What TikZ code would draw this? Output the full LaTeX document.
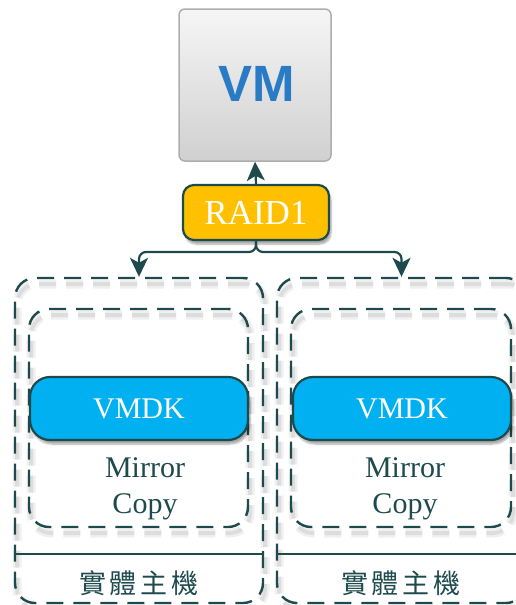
\documentclass[tikz,border=0pt]{standalone}
\usepackage{fontspec}
\setmainfont{Liberation Serif}
\newfontfamily\cjk{Noto Sans CJK TC}
\newfontfamily\vmfont{Liberation Sans}
\usetikzlibrary{arrows.meta,shadows.blur,calc}
\definecolor{dk}{HTML}{1E4A4D}
\definecolor{vmblue}{HTML}{2A7BC6}
\definecolor{raidor}{HTML}{FFC000}
\definecolor{vmdkblue}{HTML}{00B0F0}
\tikzset{
  dbox/.style={draw=dk, line width=2.4pt, dash pattern=on 17pt off 10pt, rounded corners=20pt, inner sep=0pt,
     preaction={draw=black, draw opacity=0.06, line width=9pt, dash pattern=on 17pt off 10pt, transform canvas={shift={(2pt,-6pt)}}},
     preaction={draw=black, draw opacity=0.08, line width=4pt, dash pattern=on 17pt off 10pt, transform canvas={shift={(2pt,-6pt)}}}},
  pill/.style={draw=dk, line width=2.2pt, inner sep=0pt, text=white,
     blur shadow={shadow xshift=2pt, shadow yshift=-4pt, shadow blur steps=6, shadow opacity=35}},
  conn/.style={draw=dk, line width=2.2pt, rounded corners=7pt, -{Stealth[length=19pt,width=18pt,inset=5pt]}},
  sertext/.style={text=dk, font=\fontsize{30}{36}\selectfont, align=center, inner sep=0pt},
  cjktext/.style={text=dk, font=\cjk\fontsize{27}{30}\selectfont, inner sep=0pt}
}
\begin{document}
\begin{tikzpicture}[x=1pt,y=-1pt]
\useasboundingbox (0,0) rectangle (516,605);
% VM box
\node[draw={rgb,255:red,173;green,173;blue,173}, line width=1.5pt, rounded corners=6pt,
      top color={rgb,255:red,246;green,246;blue,246}, bottom color={rgb,255:red,208;green,208;blue,208},
      minimum width=152pt, minimum height=152pt, inner sep=0pt] (vm) at (255,85) {};
\node[text=vmblue, font=\vmfont\bfseries\fontsize{51}{56}\selectfont, inner sep=0pt] (vmlabel) at (257,84) {VM};
% RAID1
\node[pill, fill=raidor, rounded corners=11pt, minimum width=146pt, minimum height=55pt,
      font=\fontsize{35}{40}\selectfont] (raid) at (256,212.5) {RAID1};
% outer boxes
\node[dbox, minimum width=248pt, minimum height=325pt] (outerL) at (139,440.5) {};
\node[dbox, minimum width=249pt, minimum height=325pt] (outerR) at (401.5,440.5) {};
% inner boxes
\node[dbox, minimum width=219pt, minimum height=218pt] (innerL) at (138.5,418) {};
\node[dbox, minimum width=220pt, minimum height=218pt] (innerR) at (401,418) {};
% VMDK pills
\node[pill, fill=vmdkblue, rounded corners=20pt, minimum width=218pt, minimum height=63pt,
      font=\fontsize{30}{34}\selectfont] (vmdkL) at (139,408.5) {VMDK};
\node[pill, fill=vmdkblue, rounded corners=20pt, minimum width=218pt, minimum height=63pt,
      font=\fontsize{30}{34}\selectfont] (vmdkR) at (402,408.5) {VMDK};
% Mirror Copy
\node[sertext] (mcL) at (145,489) {Mirror\\Copy};
\node[sertext] (mcR) at (405,489) {Mirror\\Copy};
% separators
\coordinate (sep) at (0,554);
\draw[dk, line width=1.8pt] (outerL.west |- sep) -- (outerL.east |- sep);
\draw[dk, line width=1.8pt] (outerR.west |- sep) -- (outerR.east |- sep);
% host labels
\node[cjktext] (hostL) at (139,583) {實\hspace{4pt}體\hspace{4pt}主\hspace{4pt}機};
\node[cjktext] (hostR) at (401,583) {實\hspace{4pt}體\hspace{4pt}主\hspace{4pt}機};
% connectors
\coordinate (split) at (256,252);
\draw[conn] (raid.north) -- (vm.south);
\draw[conn] (raid.south) |- (outerL.north |- split) -- (outerL.north);
\draw[conn] (raid.south) |- (outerR.north |- split) -- (outerR.north);
\end{tikzpicture}
\end{document}
